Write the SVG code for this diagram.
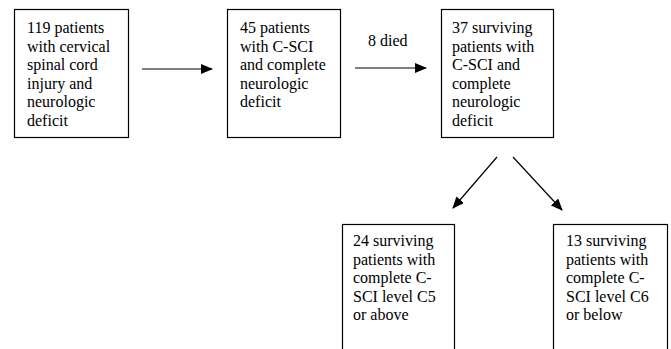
<svg xmlns="http://www.w3.org/2000/svg" width="671" height="349" viewBox="0 0 671 349">
<style>
.box{fill:#fff;stroke:#000;stroke-width:1.2}
.t{font-family:'Liberation Serif','Times New Roman',serif;font-size:16px;fill:#000}
.c{stroke:#000;stroke-width:1.2;fill:none;marker-end:url(#ah)}
</style>
<defs>
<marker id="ah" markerWidth="12" markerHeight="10" refX="11" refY="5" orient="auto" markerUnits="userSpaceOnUse">
<path d="M0,0 L12,5 L0,10 Z" fill="#000"/>
</marker>
</defs>
<rect width="671" height="349" fill="#fff"/>
<g id="n1">
<rect class="box" x="14.5" y="9.5" width="114" height="128"/>
<text class="t" x="27" y="33">119 patients<tspan x="27" dy="18.5">with cervical</tspan><tspan x="27" dy="18.5">spinal cord</tspan><tspan x="27" dy="18.5">injury and</tspan><tspan x="27" dy="18.5">neurologic</tspan><tspan x="27" dy="18.5">deficit</tspan></text>
</g>
<g id="n2">
<rect class="box" x="227.5" y="9.5" width="113" height="128"/>
<text class="t" x="240" y="33">45 patients<tspan x="240" dy="18.5">with C-SCI</tspan><tspan x="240" dy="18.5">and complete</tspan><tspan x="240" dy="18.5">neurologic</tspan><tspan x="240" dy="18.5">deficit</tspan></text>
</g>
<g id="n3">
<rect class="box" x="441.5" y="9.5" width="112" height="128"/>
<text class="t" x="452" y="33">37 surviving<tspan x="452" dy="18.5">patients with</tspan><tspan x="452" dy="18.5">C-SCI and</tspan><tspan x="452" dy="18.5">complete</tspan><tspan x="452" dy="18.5">neurologic</tspan><tspan x="452" dy="18.5">deficit</tspan></text>
</g>
<g id="n4">
<rect class="box" x="342.5" y="224.5" width="112" height="130"/>
<text class="t" x="353" y="246">24 surviving<tspan x="353" dy="18.5">patients with</tspan><tspan x="353" dy="18.5">complete C-</tspan><tspan x="353" dy="18.5">SCI level C5</tspan><tspan x="353" dy="18.5">or above</tspan></text>
</g>
<g id="n5">
<rect class="box" x="553.5" y="224.5" width="114" height="130"/>
<text class="t" x="566" y="246">13 surviving<tspan x="566" dy="18.5">patients with</tspan><tspan x="566" dy="18.5">complete C-</tspan><tspan x="566" dy="18.5">SCI level C6</tspan><tspan x="566" dy="18.5">or below</tspan></text>
</g>
<g id="connectors">
<line class="c" x1="142" y1="69" x2="212" y2="69"/>
<line class="c" x1="355" y1="68" x2="426" y2="68"/>
<text class="t" x="368" y="46">8 died</text>
<line class="c" x1="497" y1="157" x2="453" y2="208"/>
<line class="c" x1="513" y1="157" x2="562" y2="210"/>
</g>
</svg>
